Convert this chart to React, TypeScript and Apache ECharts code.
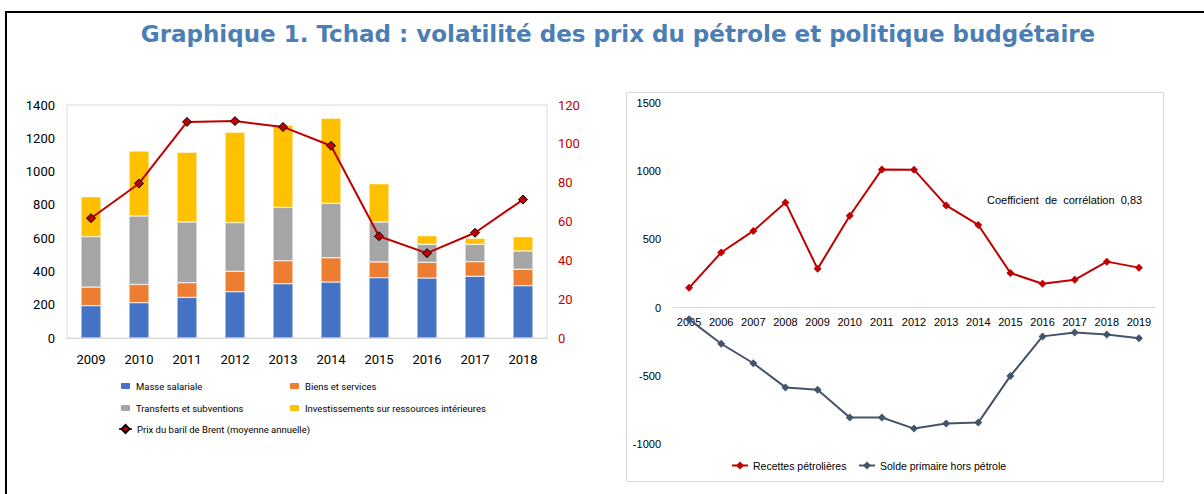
import React, { useEffect, useRef } from "react";
import * as echarts from "echarts";

const years1 = ["2009", "2010", "2011", "2012", "2013", "2014", "2015", "2016", "2017", "2018"];
const masseSalariale = [194, 212, 244, 278, 326, 336, 362, 360, 371, 314];
const biensServices = [112, 110, 88, 123, 138, 146, 95, 95, 87, 99];
const transferts = [303, 411, 365, 292, 321, 327, 240, 108, 105, 110];
const investissements = [240, 391, 419, 543, 493, 511, 230, 52, 36, 86];
const brent = [61.7, 79.6, 111.3, 111.7, 108.7, 99.0, 52.4, 43.7, 54.2, 71.3];

const years2 = ["2005", "2006", "2007", "2008", "2009", "2010", "2011", "2012", "2013", "2014", "2015", "2016", "2017", "2018", "2019"];
const recettes = [145, 404, 562, 771, 284, 673, 1013, 1011, 749, 606, 254, 175, 204, 337, 293];
const solde = [-86, -265, -408, -585, -602, -806, -806, -887, -850, -843, -501, -211, -182, -197, -224];

const leftFont = "'Liberation Sans Narrow', Roboto, 'Liberation Sans', sans-serif";
const rightFont = "'Liberation Sans', Arial, sans-serif";
const plain = (v: number) => String(v);

// right grid geometry (y axis from -1000 to 1500)
const G2_TOP = 103;
const G2_HEIGHT = 341;
const Y2_MIN = -1000;
const Y2_MAX = 1500;

export default function App() {
  const ref = useRef<HTMLDivElement>(null);
  useEffect(() => {
    if (!ref.current) return;
    const chart = echarts.init(ref.current, undefined, { renderer: "svg" });
    const barCommon = { type: "bar", stack: "dep", xAxisIndex: 0, yAxisIndex: 0, barWidth: 20 };
    const zeroOffset = -(G2_HEIGHT * (0 - Y2_MIN)) / (Y2_MAX - Y2_MIN);
    const legText = { fontFamily: leftFont, fontSize: 9.5, color: "#000" };
    const legText2 = { fontFamily: rightFont, fontSize: 10.5, color: "#000" };
    const option: any = {
      animation: false,
      backgroundColor: "#ffffff",
      title: {
        text: "Graphique 1. Tchad : volatilité des prix du pétrole et politique budgétaire",
        left: 613,
        textAlign: "center",
        top: 17,
        textStyle: { fontFamily: "'DejaVu Sans', sans-serif", fontWeight: 700, fontSize: 23, color: "#4A7EB5" },
      },
      grid: [
        { left: 67, top: 105, width: 480, height: 233, show: true, borderColor: "#d9d9d9", borderWidth: 1, backgroundColor: "transparent" },
        { left: 673, top: G2_TOP, width: 482, height: G2_HEIGHT },
      ],
      legend: [
        { left: 119, top: 381, padding: 0, itemWidth: 11, itemHeight: 8, itemGap: 0, data: ["Masse salariale"], textStyle: legText },
        { left: 288, top: 381, padding: 0, itemWidth: 11, itemHeight: 8, itemGap: 0, data: ["Biens et services"], textStyle: legText },
        { left: 119, top: 403, padding: 0, itemWidth: 11, itemHeight: 8, itemGap: 0, data: ["Transferts et subventions"], textStyle: legText },
        { left: 288, top: 403, padding: 0, itemWidth: 11, itemHeight: 8, itemGap: 0, data: ["Investissements sur ressources intérieures"], textStyle: legText },
        { left: 118, top: 424, padding: 0, itemWidth: 13, itemHeight: 10, itemGap: 0, data: ["Prix du baril de Brent (moyenne annuelle)"], textStyle: legText },
        { left: 731, top: 460, padding: 0, itemWidth: 16, itemHeight: 10, itemGap: 0, data: ["Recettes pétrolières"], textStyle: legText2 },
        { left: 858, top: 460, padding: 0, itemWidth: 16, itemHeight: 10, itemGap: 0, data: ["Solde primaire hors pétrole"], textStyle: legText2 },
      ],
      xAxis: [
        {
          type: "category",
          gridIndex: 0,
          data: years1,
          axisTick: { show: false },
          axisLine: { lineStyle: { color: "#d9d9d9" } },
          axisLabel: { margin: 15, fontFamily: leftFont, fontSize: 13, color: "#000" },
        },
        {
          type: "category",
          gridIndex: 1,
          data: years2,
          position: "bottom",
          offset: zeroOffset,
          axisTick: { show: false },
          axisLine: { onZero: false, lineStyle: { color: "#d9d9d9" } },
          axisLabel: { margin: 9, fontFamily: rightFont, fontSize: 11, color: "#000" },
        },
      ],
      yAxis: [
        {
          type: "value",
          gridIndex: 0,
          min: 0,
          max: 1400,
          interval: 200,
          splitLine: { show: false },
          axisLine: { show: false },
          axisTick: { show: false },
          axisLabel: { margin: 12, fontFamily: leftFont, fontSize: 13, color: "#000", formatter: plain },
        },
        {
          type: "value",
          gridIndex: 0,
          position: "right",
          min: 0,
          max: 120,
          interval: 20,
          splitLine: { show: false },
          axisLine: { show: false },
          axisTick: { show: false },
          axisLabel: { margin: 11, fontFamily: leftFont, fontSize: 13, color: "#C00000", formatter: plain },
        },
        {
          type: "value",
          gridIndex: 1,
          min: Y2_MIN,
          max: Y2_MAX,
          interval: 500,
          splitLine: { show: false },
          axisLine: { show: false },
          axisTick: { show: false },
          axisLabel: { margin: 12, fontFamily: rightFont, fontSize: 11, color: "#000", formatter: plain },
        },
      ],
      series: [
        { ...barCommon, name: "Masse salariale", data: masseSalariale, itemStyle: { color: "#4472C4", borderColor: "#ffffff", borderWidth: 0.5 } },
        { ...barCommon, name: "Biens et services", data: biensServices, itemStyle: { color: "#ED7D31", borderColor: "#ffffff", borderWidth: 0.5 } },
        { ...barCommon, name: "Transferts et subventions", data: transferts, itemStyle: { color: "#A5A5A5", borderColor: "#ffffff", borderWidth: 0.5 } },
        { ...barCommon, name: "Investissements sur ressources intérieures", data: investissements, itemStyle: { color: "#FFC000", borderColor: "#ffffff", borderWidth: 0.5 } },
        {
          type: "line",
          name: "Prix du baril de Brent (moyenne annuelle)",
          xAxisIndex: 0,
          yAxisIndex: 1,
          data: brent,
          symbol: "diamond",
          symbolSize: 9,
          lineStyle: { color: "#C00000", width: 2 },
          itemStyle: { color: "#C00000", borderColor: "#000", borderWidth: 1 },
        },
        {
          type: "line",
          name: "Recettes pétrolières",
          xAxisIndex: 1,
          yAxisIndex: 2,
          data: recettes,
          symbol: "diamond",
          symbolSize: 8,
          lineStyle: { color: "#C00000", width: 2 },
          itemStyle: { color: "#C00000" },
        },
        {
          type: "line",
          name: "Solde primaire hors pétrole",
          xAxisIndex: 1,
          yAxisIndex: 2,
          data: solde,
          symbol: "diamond",
          symbolSize: 8,
          lineStyle: { color: "#44546A", width: 2 },
          itemStyle: { color: "#44546A" },
        },
      ],
      graphic: [
        { type: "polyline", shape: { points: [[6, 494], [6, 12], [1204, 12]] }, style: { stroke: "#000", lineWidth: 2, fill: null }, silent: true },
        { type: "rect", shape: { x: 626.5, y: 92.5, width: 537, height: 389 }, style: { stroke: "#d9d9d9", lineWidth: 1, fill: null }, silent: true, z: -1 },
        {
          type: "text",
          x: 987,
          y: 200,
          style: { text: "Coefficient  de  corrélation  0,83", font: "11px " + rightFont, fill: "#000", textVerticalAlign: "middle" },
          silent: true,
        },
      ],
    };
    chart.setOption(option);
    return () => chart.dispose();
  }, []);
  return <div ref={ref} style={{ position: "fixed", left: 0, top: 0, width: 1204, height: 494 }} />;
}
